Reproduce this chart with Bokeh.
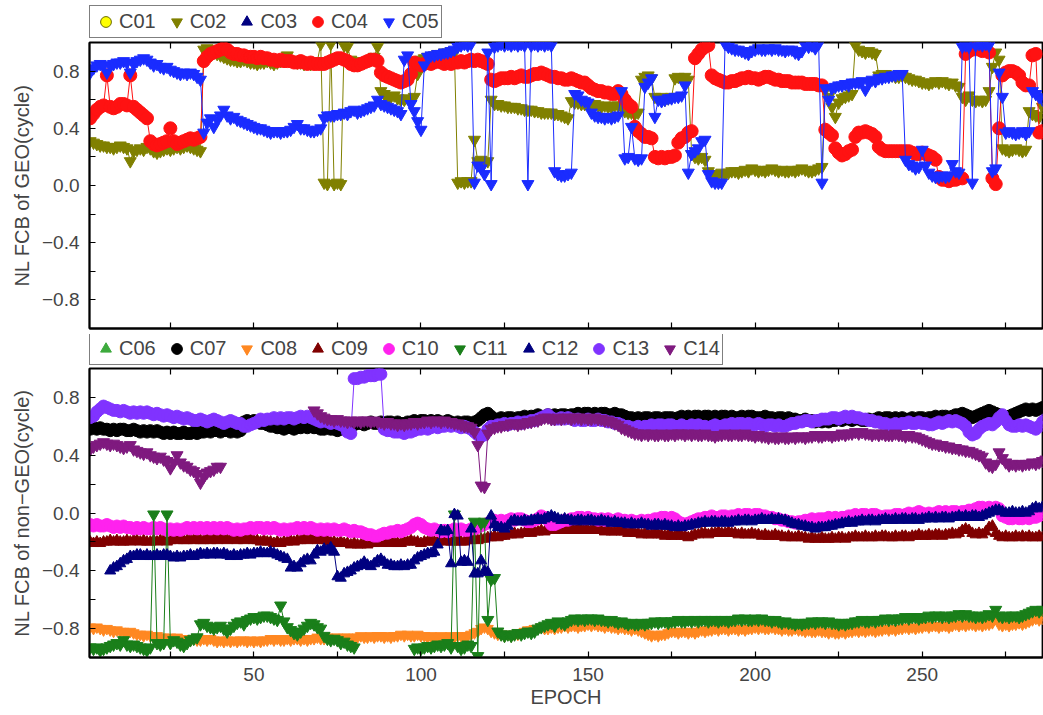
import numpy as np
from bokeh.plotting import figure
from bokeh.models import Range1d, FixedTicker, LinearAxis, Legend, LegendItem, ColumnDataSource
from bokeh.layouts import column
from bokeh.embed import file_html
from bokeh.resources import INLINE

nan = float("nan")
epoch = list(range(1, 289))

# ---------------- GEO satellites (top panel) ----------------
c01 = []   # no valid values in the chart
c02 = [
 0.31, 0.30, 0.29, 0.28, 0.28, 0.27, 0.27, 0.26, 0.27, 0.28,
 0.27, 0.26, 0.17, 0.24, 0.25, 0.26, 0.25, 0.27, 0.26, 0.24,
 0.23, 0.24, 0.25, 0.26, 0.25, 0.26, 0.27, 0.26, 0.27, 0.28,
 0.27, 0.26, 0.25, 0.24, 0.95, 0.96, 0.95, 0.93, 0.92, 0.91,
 0.90, 0.89, 0.88, 0.88, 0.87, 0.87, 0.88, 0.87, 0.86, 0.86,
 0.85, 0.86, 0.86, 0.87, 0.86, 0.85, 0.86, 0.87, 0.88, 0.91,
 0.88, 0.87, 0.86, 0.86, 0.85, 0.86, 0.85, 0.86, 0.87, 0.99,
 0.02, 0.01, 0.99, 0.01, 0.02, 0.01, 0.98, 0.97, 0.88, 0.87,
 0.86, 0.85, 0.86, 0.87, 0.88, 0.90, 0.97, 0.66, 0.64, 0.62,
 0.62, 0.63, 0.61, 0.60, 0.60, 0.61, 0.60, 0.62, 0.78, 0.88,
 0.89, 0.90, 0.90, 0.91, 0.92, 0.92, 0.93, 0.93, 0.94, 0.93,
 0.02, 0.03, 0.02, 0.03, 0.03, 0.32, 0.17, 0.18, 0.16, 0.17,
 0.60, 0.57, 0.57, 0.56, 0.56, 0.55, 0.55, 0.55, 0.54, 0.54,
 0.53, 0.53, 0.53, 0.52, 0.52, 0.51, 0.51, 0.51, 0.51, 0.50,
 0.50, 0.49, 0.48, 0.47, 0.59, 0.58, 0.58, 0.57, 0.57, 0.56,
 0.56, 0.57, 0.56, 0.55, 0.56, 0.55, 0.55, 0.56, 0.56, 0.55,
 0.52, 0.51, 0.51, 0.50, 0.51, 0.74, 0.76, 0.77, 0.75, 0.62,
 0.61, 0.62, 0.60, 0.61, 0.62, 0.75, 0.76, 0.75, 0.76, 0.74,
 0.22, 0.20, 0.19, 0.20, 0.18, 0.10, 0.08, 0.07, 0.08, 0.09,
 0.08, 0.09, 0.10, 0.10, 0.09, 0.10, 0.11, 0.10, 0.12, 0.11,
 0.10, 0.11, 0.10, 0.11, 0.12, 0.11, 0.10, 0.11, 0.10, 0.10,
 0.11, 0.10, 0.11, 0.12, 0.11, 0.10, 0.10, 0.11, 0.12, 0.13,
 0.67, 0.62, 0.55, 0.48, 0.58, 0.61, 0.62, 0.63, 0.64, 0.98,
 0.95, 0.94, 0.93, 0.94, 0.93, 0.92, 0.77, 0.78, 0.78, 0.77,
 0.77, 0.76, 0.76, 0.77, 0.76, 0.75, 0.74, 0.74, 0.73, 0.72,
 0.72, 0.71, 0.72, 0.73, 0.72, 0.73, 0.72, 0.71, 0.72, 0.70,
 0.69, 0.62, 0.60, 0.63, 0.60, 0.59, 0.60, 0.59, 0.60, 0.66,
 0.83, 0.93, 0.88, 0.26, 0.25, 0.24, 0.25, 0.26, 0.25, 0.24,
 0.25, 0.52, 0.50, 0.49, 0.48, 0.55, 0.53, 0.52]
c03 = []   # no valid values in the chart
c04 = [
 0.47, 0.50, 0.53, 0.55, 0.56, 0.77, 0.55, 0.54, 0.55, 0.57,
 0.57, 0.56, 0.77, 0.55, 0.53, 0.51, 0.49, 0.47, 0.31, 0.29,
 0.28, 0.29, 0.30, 0.31, 0.40, 0.31, 0.29, 0.30, 0.31, 0.32,
 0.33, 0.32, 0.33, 0.34, 0.87, 0.90, 0.92, 0.93, 0.94, 0.95,
 0.96, 0.95, 0.93, 0.92, 0.92, 0.91, 0.91, 0.90, 0.90, 0.90,
 0.89, 0.90, 0.89, 0.89, 0.88, 0.88, 0.87, 0.88, 0.87, 0.87,
 0.87, 0.86, 0.86, 0.87, 0.86, 0.85, 0.86, 0.85, 0.85, 0.85,
 0.85, 0.86, 0.87, 0.88, 0.89, 0.89, 0.88, 0.87, 0.85, 0.84,
 0.84, 0.85, 0.86, 0.87, 0.88, 0.88, 0.87, 0.79, 0.77, 0.76,
 0.75, 0.74, 0.73, 0.72, 0.73, 0.74, 0.78, 0.86, 0.85, 0.84,
 0.85, 0.86, 0.85, 0.86, 0.87, 0.86, 0.85, 0.86, 0.85, 0.86,
 0.86, 0.87, 0.86, 0.87, 0.88, 0.87, 0.88, 0.87, 0.86, 0.85,
 0.74, 0.73, 0.74, 0.75, 0.75, 0.75, 0.76, 0.75, 0.76, 0.77,
 0.76, 0.76, 0.77, 0.78, 0.78, 0.79, 0.78, 0.77, 0.76, 0.76,
 0.75, 0.75, 0.74, 0.74, 0.75, 0.74, 0.73, 0.72, 0.72, 0.70,
 0.68, 0.67, 0.66, 0.66, 0.65, 0.65, 0.64, 0.64, 0.66, 0.64,
 0.60, 0.57, 0.55, 0.41, 0.38, 0.36, 0.34, 0.34, 0.33, 0.20,
 0.19, 0.20, 0.19, 0.20, 0.20, 0.21, 0.30, 0.33, 0.34, 0.37,
 0.38, 0.89, 0.92, 0.95, 0.97, 0.98, 0.77, 0.75, 0.74, 0.73,
 0.72, 0.72, 0.73, 0.73, 0.74, 0.75, 0.75, 0.76, 0.75, 0.75,
 0.74, 0.75, 0.76, 0.76, 0.75, 0.74, 0.74, 0.73, 0.73, 0.73,
 0.72, 0.72, 0.72, 0.72, 0.71, 0.71, 0.71, 0.71, 0.70, 0.70,
 0.39, 0.37, 0.35, 0.26, 0.23, 0.21, 0.22, 0.24, 0.25, 0.34,
 0.37, 0.37, 0.38, 0.37, 0.36, 0.34, 0.27, 0.25, 0.24, 0.24,
 0.24, 0.24, 0.24, 0.24, 0.24, 0.24, 0.23, 0.22, 0.22, 0.23,
 0.22, 0.21, 0.20, 0.18, 0.06, 0.04, 0.04, 0.03, 0.04, 0.04,
 0.05, 0.05, 0.92, 0.94, 0.95, 0.96, 0.95, 0.94, 0.95, 0.93,
 0.05, 0.01, 0.40, 0.77, 0.79, 0.80, 0.80, 0.79, 0.77, 0.72,
 0.70, 0.70, 0.91, 0.92, 0.37, 0.38, 0.36, 0.36]
c05 = [
 0.79, 0.82, 0.84, 0.85, 0.84, 0.79, 0.84, 0.85, 0.86, 0.86,
 0.87, 0.86, 0.79, 0.85, 0.87, 0.88, 0.89, 0.88, 0.86, 0.84,
 0.85, 0.83, 0.82, 0.83, 0.81, 0.80, 0.79, 0.78, 0.79, 0.78,
 0.79, 0.78, 0.76, 0.74, 0.37, 0.44, 0.47, 0.41, 0.46, 0.49,
 0.53, 0.49, 0.47, 0.48, 0.46, 0.45, 0.44, 0.43, 0.42, 0.41,
 0.40, 0.40, 0.39, 0.38, 0.37, 0.38, 0.38, 0.37, 0.38, 0.38,
 0.39, 0.41, 0.43, 0.40, 0.40, 0.39, 0.38, 0.38, 0.39, 0.40,
 0.47, 0.49, 0.49, 0.49, 0.50, 0.50, 0.51, 0.50, 0.52, 0.53,
 0.51, 0.52, 0.53, 0.54, 0.55, 0.56, 0.60, 0.57, 0.56, 0.55,
 0.54, 0.53, 0.52, 0.50, 0.88, 0.91, 0.57, 0.52, 0.45, 0.39,
 0.84, 0.90, 0.91, 0.91, 0.92, 0.92, 0.93, 0.93, 0.94, 0.95,
 0.97, 0.98, 0.99, 0.98, 0.99, 0.02, 0.14, 0.12, 0.08, 0.93,
 0.01, 0.97, 0.98, 0.99, 0.98, 0.99, 0.98, 0.99, 0.98, 0.99,
 0.98, 0.01, 0.98, 0.99, 0.98, 0.99, 0.98, 0.99, 0.98, 0.10,
 0.08, 0.07, 0.07, 0.08, 0.09, 0.64, 0.63, 0.60, 0.59, 0.58,
 0.51, 0.49, 0.48, 0.48, 0.47, 0.48, 0.47, 0.48, 0.49, 0.66,
 0.19, 0.20, 0.41, 0.19, 0.18, 0.19, 0.69, 0.72, 0.75, 0.48,
 0.60, 0.59, 0.60, 0.61, 0.61, 0.62, 0.62, 0.63, 0.70, 0.09,
 0.22, 0.24, 0.26, 0.31, 0.32, 0.08, 0.03, 0.02, 0.02, 0.02,
 0.99, 0.97, 0.96, 0.95, 0.95, 0.94, 0.93, 0.92, 0.94, 0.95,
 0.96, 0.95, 0.95, 0.96, 0.95, 0.96, 0.95, 0.95, 0.94, 0.95,
 0.95, 0.93, 0.92, 0.94, 0.98, 0.97, 0.98, 0.96, 0.99, 0.02,
 0.68, 0.60, 0.68, 0.69, 0.70, 0.70, 0.71, 0.70, 0.72, 0.72,
 0.72, 0.73, 0.67, 0.72, 0.74, 0.73, 0.75, 0.75, 0.76, 0.76,
 0.77, 0.77, 0.78, 0.78, 0.18, 0.15, 0.14, 0.12, 0.13, 0.25,
 0.14, 0.09, 0.07, 0.06, 0.06, 0.07, 0.06, 0.07, 0.15, 0.10,
 0.09, 0.97, 0.98, 0.97, 0.02, 0.98, 0.99, 0.98, 0.99, 0.98,
 0.10, 0.12, 0.79, 0.62, 0.37, 0.38, 0.37, 0.36, 0.37, 0.38,
 0.36, 0.38, 0.66, 0.64, 0.62, 0.60, 0.61, 0.60]

# ---------------- non-GEO satellites (bottom panel) ----------------
c06 = []   # no valid values in the chart
c07 = [
 0.58, 0.59, 0.58, 0.59, 0.58, 0.58, 0.57, 0.58, 0.57, 0.58,
 0.58, 0.57, 0.57, 0.58, 0.57, 0.56, 0.57, 0.56, 0.57, 0.56,
 0.57, 0.56, 0.55, 0.56, 0.55, 0.56, 0.55, 0.55, 0.56, 0.55,
 0.55, 0.56, 0.55, 0.56, 0.56, 0.57, 0.56, 0.57, 0.57, 0.56,
 0.57, 0.57, 0.56, 0.57, 0.56, 0.57, 0.63, 0.64, 0.63, 0.64,
 0.63, 0.62, 0.62, 0.61, 0.60, 0.60, 0.59, 0.59, 0.58, 0.59,
 0.59, 0.58, 0.59, 0.59, 0.60, 0.59, 0.60, 0.59, 0.59, 0.58,
 0.58, 0.59, 0.58, 0.58, 0.57, 0.58, 0.59, 0.60, 0.61, 0.61,
 0.62, 0.62, 0.61, 0.62, 0.63, 0.62, 0.62, 0.63, 0.62, 0.63,
 0.63, 0.62, 0.63, 0.62, 0.62, 0.63, 0.63, 0.64, 0.63, 0.64,
 0.64, 0.63, 0.64, 0.63, 0.64, 0.63, 0.63, 0.64, 0.63, 0.62,
 0.63, 0.62, 0.63, 0.63, 0.62, 0.63, 0.64, 0.66, 0.68, 0.69,
 0.67, 0.65, 0.65, 0.66, 0.65, 0.66, 0.66, 0.65, 0.66, 0.66,
 0.67, 0.66, 0.67, 0.67, 0.68, 0.67, 0.67, 0.68, 0.67, 0.68,
 0.67, 0.68, 0.68, 0.67, 0.68, 0.68, 0.69, 0.68, 0.69, 0.69,
 0.68, 0.69, 0.68, 0.69, 0.69, 0.68, 0.68, 0.69, 0.68, 0.68,
 0.67, 0.66, 0.66, 0.65, 0.66, 0.65, 0.66, 0.66, 0.65, 0.66,
 0.66, 0.65, 0.66, 0.66, 0.66, 0.65, 0.66, 0.67, 0.66, 0.67,
 0.66, 0.67, 0.67, 0.66, 0.67, 0.67, 0.66, 0.67, 0.66, 0.67,
 0.67, 0.66, 0.67, 0.66, 0.66, 0.67, 0.66, 0.67, 0.67, 0.66,
 0.66, 0.66, 0.67, 0.66, 0.66, 0.65, 0.66, 0.66, 0.65, 0.66,
 0.65, 0.65, 0.64, 0.64, 0.65, 0.64, 0.64, 0.63, 0.64, 0.63,
 0.64, 0.63, 0.64, 0.64, 0.65, 0.64, 0.65, 0.65, 0.64, 0.65,
 0.65, 0.64, 0.64, 0.65, 0.64, 0.65, 0.66, 0.65, 0.66, 0.66,
 0.65, 0.66, 0.65, 0.66, 0.65, 0.65, 0.66, 0.65, 0.66, 0.66,
 0.65, 0.66, 0.66, 0.67, 0.66, 0.67, 0.67, 0.66, 0.67, 0.68,
 0.68, 0.69, 0.68, 0.67, 0.66, 0.67, 0.68, 0.69, 0.70, 0.71,
 0.70, 0.69, 0.68, 0.67, 0.66, 0.67, 0.68, 0.69, 0.70, 0.71,
 0.72, 0.71, 0.72, 0.71, 0.72, 0.73, 0.72, 0.73]
c08 = [
 -0.79, -0.80, -0.79, -0.80, -0.81, -0.80, -0.81, -0.82, -0.81, -0.82,
 -0.82, -0.83, -0.82, -0.83, -0.84, -0.84, -0.85, -0.84, -0.85, -0.86,
 -0.85, -0.86, -0.86, -0.87, -0.86, -0.87, -0.86, -0.87, -0.88, -0.87,
 -0.88, -0.87, -0.88, -0.88, -0.87, -0.88, -0.87, -0.88, -0.89, -0.88,
 -0.89, -0.88, -0.89, -0.88, -0.89, -0.88, -0.88, -0.89, -0.88, -0.89,
 -0.88, -0.89, -0.88, -0.88, -0.87, -0.88, -0.87, -0.88, -0.88, -0.87,
 -0.88, -0.87, -0.87, -0.88, -0.87, -0.88, -0.87, -0.87, -0.86, -0.87,
 -0.87, -0.86, -0.87, -0.86, -0.86, -0.87, -0.86, -0.86, -0.87, -0.86,
 -0.86, -0.85, -0.86, -0.86, -0.85, -0.86, -0.85, -0.85, -0.86, -0.85,
 -0.86, -0.85, -0.85, -0.84, -0.85, -0.84, -0.85, -0.85, -0.84, -0.85,
 -0.85, -0.86, -0.85, -0.86, -0.86, -0.85, -0.86, -0.86, -0.85, -0.86,
 -0.85, -0.85, -0.86, -0.85, -0.84, -0.83, -0.82, -0.80, -0.79, -0.80,
 -0.82, -0.83, -0.84, -0.84, -0.85, -0.84, -0.85, -0.84, -0.84, -0.83,
 -0.82, -0.81, -0.81, -0.80, -0.80, -0.79, -0.80, -0.80, -0.79, -0.80,
 -0.79, -0.79, -0.78, -0.79, -0.78, -0.78, -0.79, -0.78, -0.78, -0.77,
 -0.78, -0.77, -0.78, -0.78, -0.79, -0.78, -0.79, -0.79, -0.80, -0.79,
 -0.80, -0.80, -0.81, -0.80, -0.81, -0.82, -0.83, -0.84, -0.85, -0.84,
 -0.85, -0.84, -0.84, -0.83, -0.82, -0.82, -0.83, -0.82, -0.82, -0.83,
 -0.82, -0.83, -0.82, -0.81, -0.82, -0.81, -0.81, -0.80, -0.81, -0.80,
 -0.80, -0.81, -0.80, -0.80, -0.81, -0.80, -0.81, -0.80, -0.80, -0.79,
 -0.80, -0.79, -0.80, -0.80, -0.79, -0.80, -0.80, -0.81, -0.80, -0.81,
 -0.81, -0.80, -0.81, -0.81, -0.82, -0.81, -0.82, -0.82, -0.81, -0.82,
 -0.82, -0.83, -0.82, -0.83, -0.83, -0.82, -0.83, -0.82, -0.82, -0.81,
 -0.82, -0.81, -0.82, -0.81, -0.81, -0.82, -0.81, -0.81, -0.80, -0.81,
 -0.80, -0.81, -0.80, -0.80, -0.79, -0.80, -0.79, -0.80, -0.79, -0.79,
 -0.78, -0.79, -0.78, -0.78, -0.79, -0.78, -0.78, -0.79, -0.78, -0.77,
 -0.78, -0.77, -0.78, -0.77, -0.77, -0.78, -0.77, -0.78, -0.77, -0.77,
 -0.76, -0.73, -0.77, -0.78, -0.77, -0.78, -0.77, -0.77, -0.76, -0.77,
 -0.76, -0.75, -0.74, -0.73, -0.74, -0.73, -0.72, -0.73]
c09 = [
 -0.20, -0.21, -0.20, -0.21, -0.20, -0.20, -0.19, -0.20, -0.19, -0.20,
 -0.20, -0.19, -0.20, -0.19, -0.19, -0.20, -0.19, -0.20, -0.20, -0.19,
 -0.20, -0.19, -0.19, -0.20, -0.19, -0.18, -0.19, -0.18, -0.19, -0.19,
 -0.18, -0.19, -0.18, -0.19, -0.19, -0.18, -0.19, -0.18, -0.19, -0.18,
 -0.18, -0.19, -0.18, -0.18, -0.19, -0.18, -0.19, -0.18, -0.18, -0.19,
 -0.19, -0.20, -0.19, -0.20, -0.20, -0.21, -0.20, -0.21, -0.20, -0.20,
 -0.19, -0.20, -0.19, -0.19, -0.18, -0.19, -0.18, -0.18, -0.19, -0.18,
 -0.19, -0.19, -0.20, -0.20, -0.21, -0.20, -0.21, -0.21, -0.22, -0.21,
 -0.22, -0.22, -0.21, -0.22, -0.21, -0.21, -0.20, -0.21, -0.20, -0.20,
 -0.21, -0.20, -0.21, -0.21, -0.20, -0.20, -0.19, -0.20, -0.20, -0.21,
 -0.20, -0.20, -0.19, -0.20, -0.20, -0.19, -0.20, -0.19, -0.20, -0.20,
 -0.19, -0.20, -0.20, -0.19, -0.19, -0.18, -0.19, -0.18, -0.18, -0.17,
 -0.17, -0.16, -0.17, -0.16, -0.16, -0.15, -0.15, -0.14, -0.15, -0.14,
 -0.14, -0.13, -0.14, -0.13, -0.13, -0.12, -0.13, -0.12, -0.12, -0.11,
 -0.11, -0.12, -0.11, -0.11, -0.12, -0.11, -0.11, -0.12, -0.11, -0.12,
 -0.12, -0.11, -0.12, -0.12, -0.13, -0.12, -0.13, -0.13, -0.12, -0.13,
 -0.13, -0.14, -0.13, -0.14, -0.14, -0.15, -0.14, -0.15, -0.15, -0.14,
 -0.15, -0.15, -0.16, -0.15, -0.16, -0.16, -0.15, -0.16, -0.16, -0.17,
 -0.16, -0.15, -0.15, -0.14, -0.14, -0.15, -0.14, -0.14, -0.13, -0.14,
 -0.14, -0.13, -0.14, -0.14, -0.15, -0.14, -0.15, -0.15, -0.14, -0.15,
 -0.15, -0.16, -0.15, -0.16, -0.16, -0.15, -0.16, -0.16, -0.17, -0.16,
 -0.17, -0.17, -0.16, -0.17, -0.17, -0.18, -0.17, -0.18, -0.18, -0.17,
 -0.18, -0.18, -0.17, -0.18, -0.17, -0.17, -0.18, -0.17, -0.17, -0.16,
 -0.17, -0.17, -0.16, -0.17, -0.17, -0.16, -0.17, -0.16, -0.16, -0.17,
 -0.17, -0.16, -0.17, -0.16, -0.16, -0.17, -0.16, -0.16, -0.15, -0.16,
 -0.16, -0.15, -0.16, -0.15, -0.15, -0.16, -0.15, -0.15, -0.14, -0.15,
 -0.14, -0.12, -0.11, -0.12, -0.14, -0.15, -0.14, -0.15, -0.13, -0.10,
 -0.09, -0.14, -0.16, -0.17, -0.16, -0.17, -0.17, -0.16, -0.17, -0.16,
 -0.17, -0.16, -0.17, -0.17, -0.16, -0.17, -0.16, -0.17]
c10 = [
 -0.08, -0.09, -0.08, -0.09, -0.09, -0.08, -0.09, -0.10, -0.09, -0.10,
 -0.09, -0.10, -0.10, -0.11, -0.10, -0.11, -0.10, -0.11, -0.11, -0.10,
 -0.11, -0.10, -0.11, -0.12, -0.11, -0.12, -0.11, -0.12, -0.11, -0.10,
 -0.11, -0.10, -0.11, -0.10, -0.11, -0.10, -0.11, -0.10, -0.11, -0.10,
 -0.11, -0.10, -0.11, -0.12, -0.11, -0.12, -0.11, -0.11, -0.10, -0.11,
 -0.10, -0.10, -0.11, -0.10, -0.11, -0.10, -0.11, -0.12, -0.11, -0.12,
 -0.11, -0.11, -0.10, -0.11, -0.10, -0.11, -0.10, -0.11, -0.12, -0.11,
 -0.12, -0.11, -0.12, -0.11, -0.12, -0.12, -0.11, -0.12, -0.13, -0.12,
 -0.13, -0.13, -0.14, -0.15, -0.15, -0.16, -0.16, -0.15, -0.14, -0.14,
 -0.13, -0.13, -0.12, -0.13, -0.12, -0.11, -0.10, -0.08, -0.07, -0.08,
 -0.10, -0.11, -0.12, -0.11, -0.12, -0.13, -0.12, -0.13, -0.12, -0.11,
 -0.12, -0.11, -0.12, -0.12, -0.11, -0.11, -0.10, -0.09, -0.08, -0.07,
 -0.06, -0.05, -0.06, -0.05, -0.06, -0.05, -0.04, -0.05, -0.04, -0.04,
 -0.05, -0.06, -0.06, -0.05, -0.04, -0.02, -0.03, -0.05, -0.08, -0.08,
 -0.07, -0.06, -0.05, -0.05, -0.04, -0.04, -0.03, -0.03, -0.04, -0.03,
 -0.04, -0.04, -0.05, -0.04, -0.05, -0.04, -0.05, -0.05, -0.04, -0.05,
 -0.05, -0.06, -0.05, -0.06, -0.06, -0.05, -0.06, -0.05, -0.05, -0.04,
 -0.04, -0.03, -0.03, -0.04, -0.03, -0.04, -0.06, -0.07, -0.08, -0.07,
 -0.06, -0.05, -0.04, -0.04, -0.03, -0.03, -0.02, -0.03, -0.03, -0.02,
 -0.02, -0.03, -0.02, -0.02, -0.01, -0.02, -0.01, -0.01, -0.02, -0.01,
 -0.01, -0.02, -0.02, -0.03, -0.03, -0.04, -0.04, -0.05, -0.05, -0.06,
 -0.06, -0.07, -0.06, -0.06, -0.05, -0.05, -0.04, -0.05, -0.04, -0.04,
 -0.04, -0.03, -0.04, -0.03, -0.04, -0.03, -0.03, -0.02, -0.02, -0.01,
 -0.02, -0.01, -0.01, -0.02, -0.01, -0.01, -0.02, -0.03, -0.02, -0.02,
 -0.02, -0.01, -0.01, -0.02, -0.01, 0.00, -0.01, 0.00, 0.01, 0.00,
 -0.01, 0.00, -0.01, 0.00, 0.01, 0.00, 0.01, 0.00, 0.01, 0.01,
 0.00, 0.01, 0.01, 0.02, 0.02, 0.03, 0.04, 0.04, 0.03, 0.04,
 0.03, 0.04, 0.03, -0.02, -0.03, -0.04, -0.04, -0.03, -0.04, -0.04,
 -0.03, -0.04, -0.03, -0.03, -0.02, -0.01, 0.00, 0.01]
c11 = [
 -0.93, -0.94, -0.93, -0.95, -0.94, -0.93, -0.92, -0.91, -0.90, -0.91,
 -0.88, -0.91, -0.92, -0.91, -0.92, -0.93, -0.94, -0.95, -0.93, -0.01,
 -0.90, -0.91, -0.90, -0.01, -0.90, -0.88, -0.89, -0.91, -0.92, -0.90,
 -0.88, -0.87, -0.86, -0.77, -0.76, -0.78, -0.79, -0.80, -0.79, -0.78,
 -0.80, -0.82, -0.80, -0.78, -0.76, -0.75, -0.77, -0.74, -0.73, -0.72,
 -0.73, -0.72, -0.71, -0.71, -0.72, -0.73, -0.74, -0.64, -0.75, -0.79,
 -0.81, -0.83, -0.84, -0.82, -0.80, -0.78, -0.76, -0.77, -0.79, -0.80,
 -0.85, -0.87, -0.88, -0.87, -0.88, -0.90, -0.89, -0.91, -0.92, -0.93,
 nan, nan, nan, nan, nan, nan, nan, nan, nan, nan,
 nan, nan, nan, nan, nan, nan, nan, -0.94, -0.93, -0.94,
 -0.93, -0.92, -0.93, -0.92, -0.91, -0.92, -0.91, -0.90, -0.93, -0.01,
 -0.92, -0.94, -0.93, -0.91, -0.92, -0.06, -0.99, -0.07, -0.06, -0.74,
 -0.46, -0.45, -0.82, -0.84, -0.85, -0.84, -0.85, -0.84, -0.83, -0.84,
 -0.83, -0.82, -0.83, -0.82, -0.80, -0.79, -0.78, -0.77, -0.76, -0.78,
 -0.75, -0.76, -0.77, -0.75, -0.74, -0.73, -0.74, -0.73, -0.74, -0.73,
 -0.73, -0.74, -0.73, -0.74, -0.74, -0.75, -0.74, -0.75, -0.76, -0.75,
 -0.76, -0.77, -0.76, -0.77, -0.77, -0.76, -0.77, -0.76, -0.76, -0.75,
 -0.76, -0.75, -0.75, -0.76, -0.75, -0.75, -0.74, -0.75, -0.75, -0.74,
 -0.75, -0.74, -0.75, -0.74, -0.74, -0.75, -0.74, -0.74, -0.75, -0.74,
 -0.74, -0.75, -0.74, -0.74, -0.73, -0.74, -0.73, -0.74, -0.74, -0.73,
 -0.74, -0.73, -0.74, -0.74, -0.75, -0.74, -0.75, -0.76, -0.75, -0.76,
 -0.76, -0.77, -0.76, -0.77, -0.76, -0.76, -0.75, -0.76, -0.75, -0.75,
 -0.76, -0.75, -0.76, -0.76, -0.77, -0.76, -0.77, -0.76, -0.76, -0.75,
 -0.75, -0.74, -0.75, -0.75, -0.74, -0.75, -0.74, -0.74, -0.73, -0.74,
 -0.73, -0.74, -0.73, -0.73, -0.72, -0.73, -0.72, -0.72, -0.73, -0.72,
 -0.72, -0.71, -0.72, -0.71, -0.71, -0.72, -0.71, -0.72, -0.71, -0.71,
 -0.70, -0.71, -0.70, -0.71, -0.71, -0.72, -0.71, -0.72, -0.71, -0.70,
 -0.71, -0.67, -0.71, -0.72, -0.71, -0.72, -0.71, -0.71, -0.72, -0.71,
 -0.70, -0.69, -0.68, -0.67, -0.68, -0.67, -0.68, -0.67]
c12 = [
 nan, nan, nan, nan, nan, nan, -0.40, -0.38, -0.37, -0.35,
 -0.33, -0.32, -0.30, -0.30, -0.29, -0.29, -0.30, -0.29, -0.30, -0.30,
 -0.29, -0.30, -0.29, -0.29, -0.30, -0.31, -0.30, -0.31, -0.30, -0.30,
 -0.29, -0.30, -0.29, -0.28, -0.29, -0.28, -0.29, -0.28, -0.28, -0.29,
 -0.28, -0.29, -0.30, -0.29, -0.30, -0.29, -0.29, -0.28, -0.29, -0.28,
 -0.28, -0.27, -0.28, -0.28, -0.27, -0.28, -0.29, -0.30, -0.31, -0.32,
 -0.38, -0.37, -0.38, -0.35, -0.33, -0.32, -0.33, -0.29, -0.26, -0.27,
 -0.25, -0.26, -0.24, -0.27, -0.44, -0.45, -0.42, -0.41, -0.40, -0.38,
 -0.37, -0.36, -0.34, -0.36, -0.37, -0.35, -0.33, -0.32, -0.34, -0.36,
 -0.36, -0.37, -0.37, -0.36, -0.37, -0.36, -0.36, -0.33, -0.31, -0.30,
 -0.29, -0.28, -0.28, -0.27, -0.22, -0.12, -0.13, -0.12, -0.35, -0.01,
 -0.02, -0.34, -0.33, -0.34, -0.11, -0.42, -0.42, -0.33, -0.40, -0.41,
 -0.02, -0.08, -0.10, -0.10, -0.11, -0.09, -0.06, -0.05, -0.06, -0.06,
 -0.05, -0.06, -0.05, -0.05, -0.04, -0.05, -0.04, -0.03, -0.02, -0.03,
 -0.04, -0.05, -0.04, -0.05, -0.05, -0.06, -0.05, -0.05, -0.06, -0.05,
 -0.05, -0.06, -0.06, -0.05, -0.06, -0.06, -0.07, -0.06, -0.07, -0.07,
 -0.07, -0.08, -0.07, -0.08, -0.08, -0.07, -0.08, -0.08, -0.09, -0.08,
 -0.08, -0.09, -0.08, -0.09, -0.09, -0.10, -0.09, -0.10, -0.09, -0.09,
 -0.08, -0.08, -0.07, -0.07, -0.06, -0.07, -0.06, -0.06, -0.07, -0.06,
 -0.06, -0.07, -0.06, -0.06, -0.05, -0.06, -0.05, -0.05, -0.06, -0.05,
 -0.05, -0.04, -0.05, -0.05, -0.04, -0.05, -0.04, -0.05, -0.05, -0.06,
 -0.07, -0.08, -0.08, -0.09, -0.09, -0.10, -0.10, -0.11, -0.10, -0.10,
 -0.10, -0.09, -0.09, -0.08, -0.08, -0.07, -0.07, -0.06, -0.07, -0.06,
 -0.06, -0.05, -0.06, -0.05, -0.05, -0.06, -0.05, -0.05, -0.04, -0.05,
 -0.05, -0.04, -0.05, -0.04, -0.04, -0.05, -0.04, -0.04, -0.05, -0.04,
 -0.04, -0.03, -0.04, -0.03, -0.04, -0.03, -0.03, -0.04, -0.03, -0.03,
 -0.02, -0.03, -0.02, -0.03, -0.02, -0.02, -0.03, -0.02, -0.01, 0.00,
 0.01, 0.02, 0.02, 0.01, 0.00, 0.00, 0.01, 0.00, 0.00, 0.01,
 0.00, 0.01, 0.03, 0.04, 0.03, 0.04, 0.05, 0.04]
c13 = [
 0.66, 0.67, 0.70, 0.72, 0.74, 0.73, 0.72, 0.71, 0.71, 0.70,
 0.71, 0.70, 0.69, 0.70, 0.69, 0.70, 0.69, 0.70, 0.69, 0.68,
 0.69, 0.68, 0.67, 0.68, 0.67, 0.66, 0.67, 0.66, 0.65, 0.66,
 0.65, 0.64, 0.64, 0.65, 0.64, 0.63, 0.64, 0.65, 0.64, 0.63,
 0.62, 0.63, 0.64, 0.63, 0.62, 0.62, 0.60, 0.60, 0.61, 0.62,
 0.63, 0.65, 0.64, 0.65, 0.65, 0.66, 0.65, 0.66, 0.65, 0.66,
 0.66, 0.65, 0.66, 0.67, 0.66, 0.67, 0.66, 0.65, 0.64, 0.63,
 0.64, 0.63, 0.62, 0.63, 0.62, 0.61, 0.60, 0.56, 0.55, 0.93,
 0.93, 0.94, 0.94, 0.95, 0.95, 0.95, 0.96, 0.96, 0.58, 0.57,
 0.57, 0.56, 0.56, 0.56, 0.55, 0.56, 0.56, 0.57, 0.58, 0.58,
 0.59, 0.58, 0.59, 0.60, 0.59, 0.60, 0.60, 0.61, 0.60, 0.61,
 0.60, 0.59, 0.60, 0.59, 0.58, 0.56, 0.54, 0.53, 0.54, 0.58,
 0.60, 0.60, 0.61, 0.61, 0.62, 0.61, 0.62, 0.62, 0.63, 0.62,
 0.63, 0.63, 0.64, 0.64, 0.65, 0.66, 0.67, 0.68, 0.66, 0.65,
 0.65, 0.66, 0.65, 0.66, 0.65, 0.64, 0.65, 0.64, 0.64, 0.65,
 0.64, 0.64, 0.65, 0.64, 0.64, 0.63, 0.63, 0.62, 0.62, 0.61,
 0.60, 0.60, 0.59, 0.59, 0.60, 0.59, 0.60, 0.60, 0.61, 0.60,
 0.61, 0.61, 0.60, 0.61, 0.61, 0.60, 0.60, 0.61, 0.60, 0.60,
 0.61, 0.60, 0.61, 0.60, 0.60, 0.59, 0.60, 0.61, 0.60, 0.60,
 0.61, 0.61, 0.62, 0.61, 0.62, 0.62, 0.61, 0.62, 0.61, 0.61,
 0.62, 0.61, 0.60, 0.61, 0.61, 0.60, 0.61, 0.60, 0.60, 0.61,
 0.62, 0.62, 0.63, 0.63, 0.64, 0.64, 0.63, 0.64, 0.64, 0.65,
 0.65, 0.65, 0.66, 0.66, 0.65, 0.66, 0.67, 0.66, 0.67, 0.66,
 0.66, 0.65, 0.65, 0.64, 0.64, 0.63, 0.63, 0.62, 0.62, 0.61,
 0.61, 0.62, 0.61, 0.62, 0.62, 0.63, 0.62, 0.62, 0.63, 0.62,
 0.62, 0.61, 0.61, 0.62, 0.63, 0.62, 0.63, 0.64, 0.63, 0.64,
 0.63, 0.62, 0.60, 0.56, 0.54, 0.55, 0.58, 0.60, 0.61, 0.62,
 0.61, 0.63, 0.66, 0.68, 0.64, 0.61, 0.60, 0.60, 0.61, 0.60,
 0.61, 0.60, 0.59, 0.58, 0.60, 0.63, 0.65, 0.66]
c14 = [
 0.44, 0.46, 0.47, 0.48, 0.49, 0.48, 0.47, 0.48, 0.47, 0.46,
 0.45, 0.46, 0.47, 0.44, 0.43, 0.42, 0.41, 0.42, 0.40, 0.39,
 0.38, 0.39, 0.37, 0.36, 0.31, 0.35, 0.40, 0.35, 0.33, 0.32,
 0.30, 0.29, 0.27, 0.21, 0.25, 0.28, 0.29, 0.30, 0.32, 0.32,
 nan, nan, nan, nan, nan, nan, nan, nan, nan, nan,
 nan, nan, nan, nan, nan, nan, nan, nan, nan, nan,
 nan, nan, nan, nan, nan, nan, nan, 0.71, 0.69, 0.67,
 0.66, 0.65, 0.65, 0.64, 0.65, 0.64, 0.64, 0.63, 0.64, 0.63,
 0.64, 0.63, 0.64, 0.64, 0.63, 0.64, 0.63, 0.63, 0.62, 0.63,
 0.62, 0.62, 0.61, 0.62, 0.61, 0.62, 0.62, 0.63, 0.62, 0.63,
 0.63, 0.64, 0.63, 0.64, 0.64, 0.63, 0.64, 0.63, 0.63, 0.62,
 0.62, 0.61, 0.60, 0.60, 0.59, 0.56, 0.47, 0.19, 0.18, 0.55,
 0.58, 0.59, 0.60, 0.60, 0.61, 0.61, 0.62, 0.62, 0.61, 0.62,
 0.62, 0.63, 0.63, 0.64, 0.64, 0.65, 0.66, 0.66, 0.65, 0.65,
 0.66, 0.65, 0.66, 0.66, 0.65, 0.66, 0.66, 0.65, 0.66, 0.65,
 0.65, 0.66, 0.65, 0.65, 0.64, 0.64, 0.63, 0.62, 0.61, 0.59,
 0.58, 0.57, 0.56, 0.55, 0.55, 0.54, 0.55, 0.54, 0.55, 0.54,
 0.54, 0.55, 0.54, 0.54, 0.55, 0.54, 0.55, 0.55, 0.54, 0.55,
 0.54, 0.55, 0.54, 0.54, 0.55, 0.54, 0.54, 0.53, 0.54, 0.54,
 0.55, 0.54, 0.54, 0.55, 0.54, 0.54, 0.55, 0.54, 0.54, 0.53,
 0.54, 0.53, 0.53, 0.52, 0.53, 0.52, 0.52, 0.53, 0.52, 0.52,
 0.53, 0.52, 0.53, 0.53, 0.52, 0.53, 0.53, 0.54, 0.53, 0.53,
 0.54, 0.54, 0.53, 0.54, 0.54, 0.55, 0.54, 0.55, 0.55, 0.56,
 0.55, 0.56, 0.55, 0.55, 0.54, 0.55, 0.54, 0.55, 0.54, 0.54,
 0.54, 0.55, 0.54, 0.54, 0.53, 0.54, 0.53, 0.53, 0.52, 0.51,
 0.50, 0.49, 0.48, 0.48, 0.47, 0.47, 0.46, 0.46, 0.45, 0.45,
 0.44, 0.44, 0.43, 0.43, 0.42, 0.41, 0.40, 0.39, 0.35, 0.33,
 0.32, 0.34, 0.42, 0.38, 0.35, 0.33, 0.34, 0.33, 0.34, 0.33,
 0.34, 0.34, 0.35, 0.34, 0.35, 0.36, 0.37, 0.37]

y_ticks = [-0.8, -0.6, -0.4, -0.2, 0.0, 0.2, 0.4, 0.6, 0.8]
y_tick_labels = ["\u22120.8", "", "\u22120.4", "", "0.0", "", "0.4", "", "0.8"]
x_ticks = [25, 50, 75, 100, 125, 150, 175, 200, 225, 250, 275]
x_tick_labels = ["", "50", "", "100", "", "150", "", "200", "", "250", ""]

FONT = "Liberation Sans"
X_RANGE = (0.8, 286.0)


def fit(a):
    # align a series with the epochs; epochs without a value stay empty (NaN)
    a = (list(a) + [nan] * len(epoch))[:len(epoch)]
    return epoch, a


def make_fig(height, top, bottom, ylabel, show_x):
    p = figure(width=1043, height=height, x_range=Range1d(*X_RANGE), y_range=Range1d(-1, 1),
               output_backend="svg", toolbar_location=None,
               min_border_left=89, min_border_right=1, min_border_top=top, min_border_bottom=bottom)
    p.grid.visible = False
    p.outline_line_color = "black"
    p.outline_line_width = 1.8
    p.background_fill_color = "white"
    p.border_fill_color = "white"

    ya = p.yaxis[0]
    ya.ticker = FixedTicker(ticks=y_ticks, minor_ticks=[])
    ya.major_label_overrides = dict(zip(y_ticks, y_tick_labels))
    ya.axis_label = ylabel
    ya.axis_label_text_font = FONT
    ya.axis_label_text_font_size = "20px"
    ya.axis_label_text_font_style = "normal"
    ya.axis_label_standoff = 6
    ya.major_label_text_font = FONT
    ya.major_label_text_font_size = "19px"
    ya.major_label_standoff = 10
    ya.major_tick_in = 6
    ya.major_tick_out = 0
    ya.major_tick_line_width = 1.2
    ya.axis_line_width = 1.8

    xa = p.xaxis[0]
    xa.ticker = FixedTicker(ticks=x_ticks, minor_ticks=[])
    xa.major_tick_in = 6
    xa.major_tick_out = 0
    xa.major_tick_line_width = 1.2
    xa.axis_line_width = 1.8
    if show_x:
        xa.major_label_overrides = dict(zip(x_ticks, x_tick_labels))
        xa.major_label_text_font = FONT
        xa.major_label_text_font_size = "19px"
        xa.major_label_standoff = 10
        xa.axis_label = "EPOCH"
        xa.axis_label_text_font = FONT
        xa.axis_label_text_font_size = "20px"
        xa.axis_label_text_font_style = "normal"
        xa.axis_label_standoff = 2
    else:
        xa.major_label_overrides = {t: "" for t in x_ticks}
        xa.major_label_text_font_size = "0px"
        xa.major_label_standoff = 0

    # mirrored ticks on the top edge of the box
    top_axis = LinearAxis(ticker=FixedTicker(ticks=x_ticks, minor_ticks=[]),
                          major_label_overrides={t: "" for t in x_ticks},
                          major_label_text_font_size="0px", major_label_standoff=0,
                          major_tick_in=6, major_tick_out=0, major_tick_line_width=1.2,
                          axis_line_color=None)
    p.add_layout(top_axis, "above")
    return p


def legend_strip(height):
    # a thin strip above each panel that only carries that panel's legend
    f = figure(width=1043, height=height, x_range=Range1d(*X_RANGE), y_range=Range1d(10, 11),
               output_backend="svg", toolbar_location=None,
               x_axis_location=None, y_axis_location=None,
               min_border_left=89, min_border_right=1, min_border_top=0, min_border_bottom=0)
    f.grid.visible = False
    f.outline_line_color = None
    f.background_fill_color = "white"
    f.border_fill_color = "white"
    return f


def add_series(p, strip, data, color, marker, size, line_color=None):
    xs, ys = fit(data)
    src = ColumnDataSource(dict(x=np.array(xs, dtype=float), y=np.array(ys, dtype=float)))
    kw = dict(marker=marker, size=size, fill_color=color, line_color=line_color or color, line_width=1)
    p.line("x", "y", source=src, line_color=color, line_width=1)
    p.scatter("x", "y", source=src, **kw)
    # same series in the legend strip (its y range lies outside the data, so only the key shows)
    return strip.scatter("x", "y", source=src, **kw)


def add_legend(strip, items):
    lg = Legend(items=items, orientation="horizontal", location=(0, 1),
                margin=0, padding=2, spacing=7, label_standoff=0,
                glyph_width=27, glyph_height=27, label_height=26,
                label_text_font=FONT, label_text_font_size="20px",
                border_line_color="black", border_line_width=1,
                background_fill_color="white", background_fill_alpha=1)
    strip.add_layout(lg, "center")


# ---------------- top panel ----------------
top_strip = legend_strip(39)
top_fig = make_fig(295, 3, 6, "NL FCB of GEO(cycle)", False)
top_specs = [
    ("C01", c01, "#FFFF00", "circle", 13, "#6B6B00"),
    ("C02", c02, "#808000", "inverted_triangle", 12, None),
    ("C03", c03, "#000080", "triangle", 12, None),
    ("C04", c04, "#FF1212", "circle", 13, None),
    ("C05", c05, "#1A2CFF", "inverted_triangle", 12, None),
]
items = []
for name, data, col, mk, sz, lc in top_specs:
    r = add_series(top_fig, top_strip, data, col, mk, sz, lc)
    items.append(LegendItem(label=name, renderers=[r]))
add_legend(top_strip, items)

# ---------------- bottom panel ----------------
bot_strip = legend_strip(32)
bot_fig = make_fig(349, 2, 58, "NL FCB of non\u2212GEO(cycle)", True)
bot_specs = [
    ("C06", c06, "#3DAA3D", "triangle", 11, None),
    ("C07", c07, "#000000", "circle", 12, None),
    ("C08", c08, "#FF8822", "inverted_triangle", 11, None),
    ("C09", c09, "#800000", "triangle", 11, None),
    ("C10", c10, "#FF22EE", "circle", 12, None),
    ("C11", c11, "#1A7F1A", "inverted_triangle", 12, None),
    ("C12", c12, "#000080", "triangle", 11, None),
    ("C13", c13, "#8033FF", "circle", 12, None),
    ("C14", c14, "#7F1A7F", "inverted_triangle", 12, None),
]
items = []
for name, data, col, mk, sz, lc in bot_specs:
    r = add_series(bot_fig, bot_strip, data, col, mk, sz, lc)
    items.append(LegendItem(label=name, renderers=[r]))
add_legend(bot_strip, items)

layout = column(top_strip, top_fig, bot_strip, bot_fig, spacing=0)
open("out.html", "w").write(file_html(layout, INLINE))
